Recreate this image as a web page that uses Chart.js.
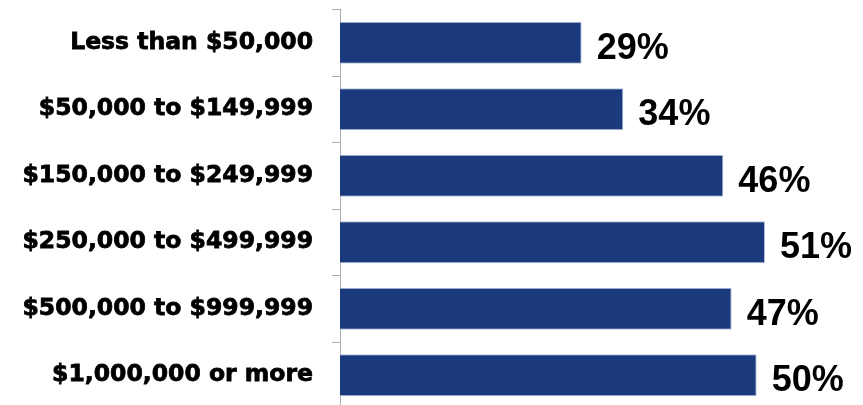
<!DOCTYPE html>
<html>
<head>
<meta charset="utf-8">
<script src="https://cdn.jsdelivr.net/npm/chart.js@4"></script>
<style>
  html, body { margin: 0; padding: 0; background: #fff; overflow: hidden; }
  #wrap { width: 863px; height: 409px; position: relative; }
</style>
</head>
<body>
<div id="wrap"><canvas id="c"></canvas></div>
<script>
// Income bands (category axis) and the share for each band, in percent
const incomeBands = [
  'Less than $50,000',
  '$50,000 to $149,999',
  '$150,000 to $249,999',
  '$250,000 to $499,999',
  '$500,000 to $999,999',
  '$1,000,000 or more'
];
const shares = [29, 34, 46, 51, 47, 50];
const valueSuffix = '%';
const valueAxisMin = 0;
const valueAxisMax = 60;

// Writes each bar's value just past its end
const barValueLabels = {
  id: 'barValueLabels',
  afterDatasetsDraw(chart) {
    const ctx = chart.ctx;
    const meta = chart.getDatasetMeta(0);
    ctx.save();
    ctx.font = 'bold 36px "Liberation Sans", Arial, sans-serif';
    ctx.fillStyle = '#000';
    ctx.textAlign = 'left';
    ctx.textBaseline = 'alphabetic';
    meta.data.forEach((bar, i) => {
      ctx.fillText(shares[i] + valueSuffix, bar.x + 15, bar.y + 16);
    });
    ctx.restore();
  }
};

const axisGrey = '#a7aeb5';

new Chart(document.getElementById('c'), {
  type: 'bar',
  data: {
    labels: incomeBands,
    datasets: [{
      data: shares,
      backgroundColor: '#1b3a7e',
      borderColor: '#b4c0da',
      borderWidth: 1,
      categoryPercentage: 1,
      barPercentage: 0.632
    }]
  },
  options: {
    indexAxis: 'y',
    responsive: true,
    maintainAspectRatio: false,
    animation: false,
    layout: { padding: { top: 9.5, bottom: 0.5, left: 0, right: 23 } },
    plugins: { legend: { display: false }, tooltip: { enabled: false } },
    scales: {
      x: { display: false, min: valueAxisMin, max: valueAxisMax },
      y: {
        afterFit(scale) {
          scale.width = 340;
          scale.paddingTop = 0;
          scale.paddingBottom = 0;
        },
        grid: {
          display: true,
          drawOnChartArea: false,
          drawTicks: true,
          tickLength: 8,
          color: axisGrey,
          offset: true
        },
        border: { display: true, color: axisGrey, width: 1 },
        ticks: {
          color: '#000',
          padding: 19,
          textStrokeColor: '#000',
          textStrokeWidth: 0.8,
          font: { family: '"DejaVu Sans", Verdana, sans-serif', weight: 'bold', size: 23.5 }
        }
      }
    }
  },
  plugins: [barValueLabels]
});
</script>
</body>
</html>
